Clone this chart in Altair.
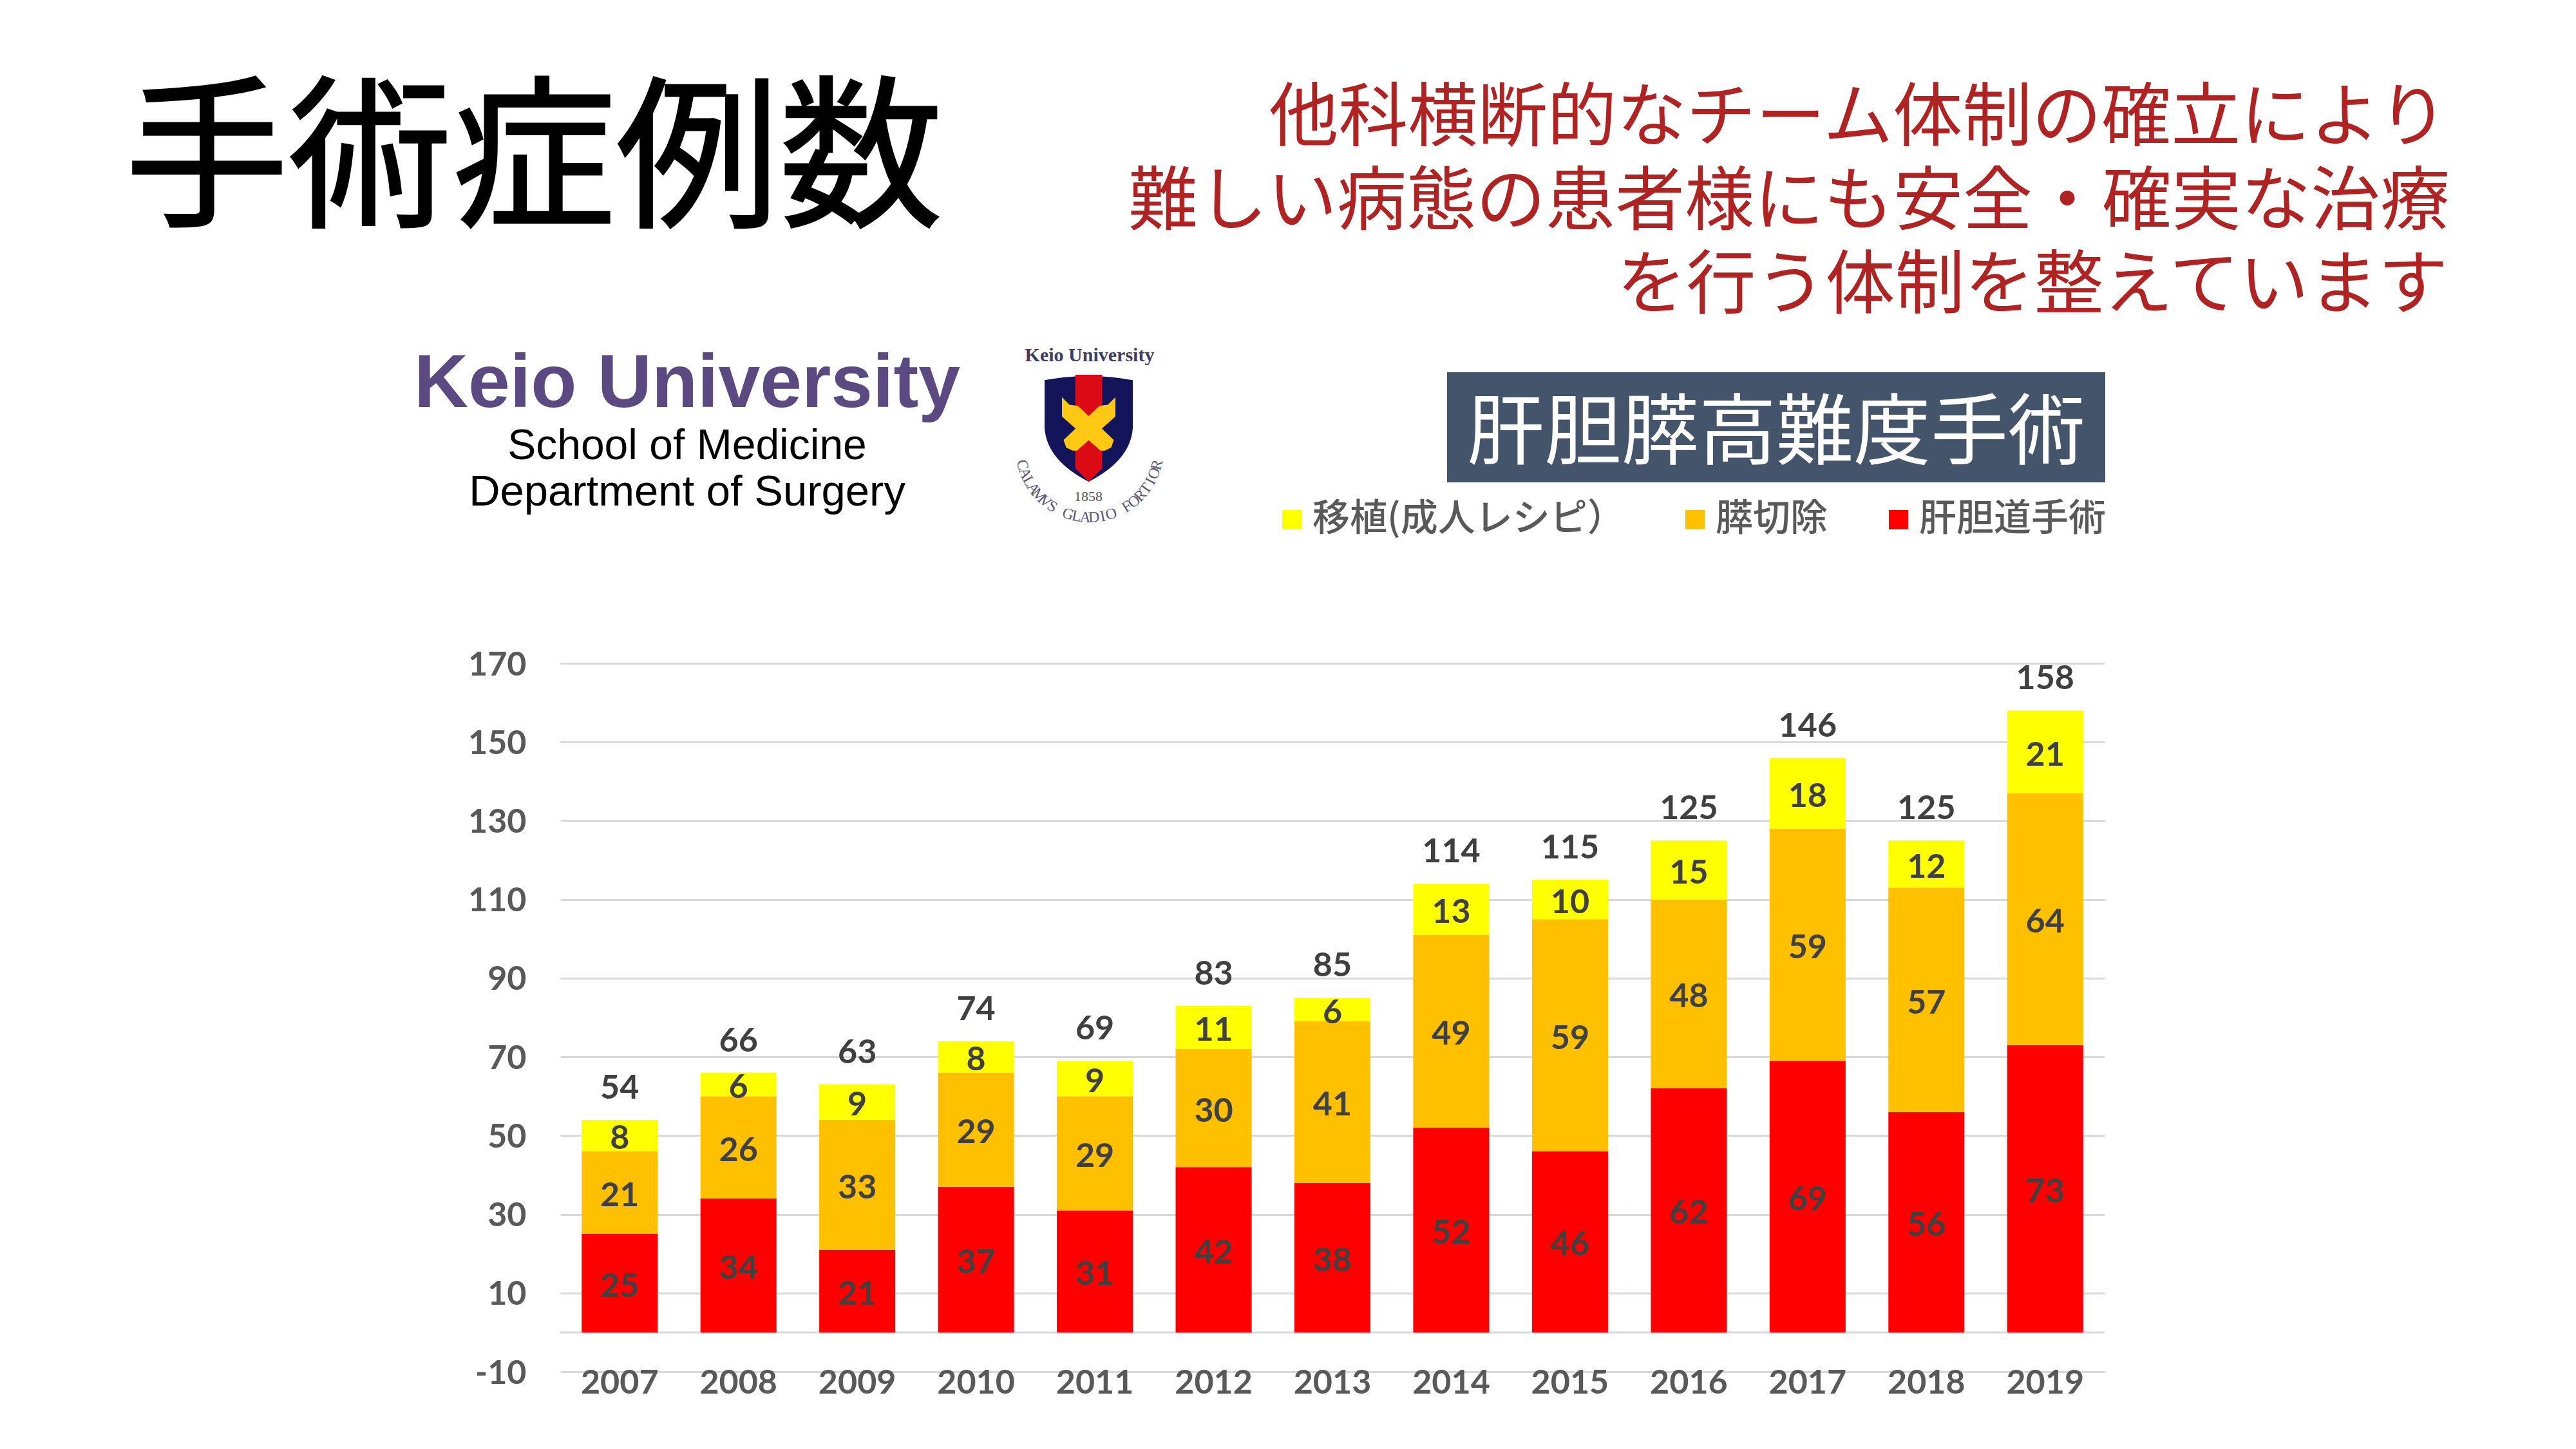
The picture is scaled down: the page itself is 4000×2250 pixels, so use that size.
import math
import altair as alt
import pandas as pd

years = ["2007","2008","2009","2010","2011","2012","2013","2014","2015","2016","2017","2018","2019"]
hbp = [25,34,21,37,31,42,38,52,46,62,69,56,73]
pancreas = [21,26,33,29,29,30,41,49,59,48,59,57,64]
transplant = [8,6,9,8,9,11,6,13,10,15,18,12,21]
series_names = ["移植(成人レシピ）", "膵切除", "肝胆道手術"]
series_colors = ["#FFFF00", "#FFC000", "#FF0000"]
y_ticks = [-10,10,30,50,70,90,110,130,150,170]
title_text = "手術症例数"
subtitle_lines = ["他科横断的なチーム体制の確立により", "難しい病態の患者様にも安全・確実な治療", "を行う体制を整えています"]
box_text = "肝胆膵高難度手術"
crest_motto = "CALAMVS GLADIO FORTIOR"

PX0, PY0, PW, PH = 870, 1030, 2398, 1100
JP = "Noto Sans CJK JP"
NUM = "Lato"

rows = []
for i, yr in enumerate(years):
    lo = 0
    for name, vals in zip(series_names[::-1], [hbp, pancreas, transplant]):
        v = vals[i]
        rows.append(dict(year=yr, series=name, value=v, lo=lo, hi=lo+v, mid=lo+v/2))
        lo += v
df = pd.DataFrame(rows)
totals = pd.DataFrame({"year": years, "total": [a+b+c for a,b,c in zip(hbp,pancreas,transplant)]})

x_enc = alt.X("year:N", sort=years, title=None,
              scale=alt.Scale(paddingInner=0.36, paddingOuter=0.18),
              axis=alt.Axis(domain=False, ticks=False, grid=False, labelAngle=0, labelFont=NUM,
                            labelFontWeight="bold", labelFontSize=52, labelColor="#595959",
                            labelBaseline="middle", labelPadding=17))
y_scale = alt.Scale(domain=[-10,170], nice=False, zero=False)
y_enc = alt.Y("hi:Q", scale=y_scale, title=None,
              axis=alt.Axis(values=y_ticks, domain=False, ticks=False, grid=True, gridColor="#D9D9D9",
                            gridWidth=3, labelFont=NUM, labelFontWeight="bold", labelFontSize=52,
                            labelColor="#595959", labelPadding=53, labelOffset=2,
                            labelExpr="toString(datum.value)"))

bars = alt.Chart(df).mark_bar(strokeWidth=0).encode(
    x=x_enc, y=y_enc, y2="lo:Q",
    color=alt.Color("series:N", sort=series_names,
                    scale=alt.Scale(domain=series_names, range=series_colors),
                    legend=alt.Legend(orient="none", legendX=1107, legendY=-252, direction="horizontal",
                                      columns=3, gridAlign="none", columnPadding=80, title=None,
                                      symbolType="square", symbolSize=900, symbolStrokeWidth=0,
                                      labelFont=JP, labelFontSize=58, labelColor="#595959",
                                      labelFontWeight=500, labelLimit=1000, labelOffset=3)))
zero_line = alt.Chart(pd.DataFrame({"z":[0]})).mark_rule(color="#D9D9D9", strokeWidth=3).encode(
    y=alt.Y("z:Q", scale=y_scale))
seg_labels = alt.Chart(df).mark_text(font=NUM, fontWeight="bold", fontSize=52, color="#404040", dy=5).encode(
    x=alt.X("year:N", sort=years), y=alt.Y("mid:Q", scale=y_scale), text="value:Q")
total_labels = alt.Chart(totals).mark_text(font=NUM, fontWeight="bold", fontSize=52, color="#404040", dy=-49).encode(
    x=alt.X("year:N", sort=years), y=alt.Y("total:Q", scale=y_scale), text="total:Q")

def text(s, px, py, **kw):
    kw.setdefault("baseline", "middle")
    return alt.Chart(alt.Data(values=[{}])).mark_text(text=s, **kw).encode(
        x=alt.value(px-PX0), y=alt.value(py-PY0))
def shape(path, px, py, size, color):
    return alt.Chart(alt.Data(values=[{}])).mark_point(shape=path, filled=True, opacity=1, strokeWidth=0, color=color, size=size).encode(
        x=alt.value(px-PX0), y=alt.value(py-PY0))

deco = [
    text(title_text, 194, 257, font=JP, fontSize=254, color="#000000", stroke="#000000", strokeWidth=3, align="left"),
    text(subtitle_lines[0], 3801, 186, font=JP, fontSize=108, color="#AF2323", align="right"),
    text(subtitle_lines[1], 3804, 316, font=JP, fontSize=108, color="#AF2323", align="right"),
    text(subtitle_lines[2], 3801, 446, font=JP, fontSize=108, color="#AF2323", align="right"),
    alt.Chart(alt.Data(values=[{}])).mark_rect(color="#44546A").encode(
        x=alt.value(2247-PX0), x2=alt.value(3269-PX0), y=alt.value(578-PY0), y2=alt.value(749-PY0)),
    text(box_text, 2758, 676, font=JP, fontSize=120, color="#FFFFFF", align="center"),
    text("Keio University", 1067, 597, font="Liberation Sans", fontWeight="bold", fontSize=116.5, color="#5B4A82", align="center"),
    text("School of Medicine", 1067, 693, font="Liberation Sans", fontSize=66, color="#000000", align="center"),
    text("Department of Surgery", 1067, 765, font="Liberation Sans", fontSize=67, color="#000000", align="center"),
    text("Keio University", 1692, 552, font="Liberation Serif", fontWeight="bold", fontSize=30, color="#3C3C64", align="center"),
    text("1858", 1690, 771, font="Liberation Serif", fontSize=22, color="#555555", align="center"),
    shape("M-.825 -.9 Q0 -1.06 .825 -.9 L.825 .0 Q.78 .6 0 1 Q-.78 .6 -.825 0 Z", 1690.5, 665, 166**2, "#14145A"),
    shape("M-.25 -1 L.25 -1 L.25 .75 L0 1 L-.25 .75 Z", 1690.5, 665, 166**2, "#DC0A14"),
    shape("M-.5 -.58 L-.36 -.44 L-.2 -.42 L.47 .22 L.42 .36 L.3 .42 L.22 .42 L-.5 -.22 Z", 1690.5, 665, 166**2, "#FFC814"),
    shape("M.5 -.58 L.36 -.44 L.2 -.42 L-.47 .22 L-.42 .36 L-.3 .42 L-.22 .42 L.5 -.22 Z", 1690.5, 665, 166**2, "#FFC814"),
]
cx, cy, R = 1692, 696, 108
n = len(crest_motto)
for i, ch in enumerate(crest_motto):
    if ch == " ":
        continue
    phi = -76 + 152 * i / (n-1)
    r = math.radians(phi)
    deco.append(text(ch, cx + R*math.sin(r), cy + R*math.cos(r), font="Liberation Serif", fontSize=24,
                     color="#5A5A78", align="center", angle=(360-phi) % 360))

chart = alt.layer(zero_line, bars, seg_labels, total_labels, *deco).properties(
    width=PW, height=PH, background="#FFFFFF",
    autosize=alt.AutoSizeParams(type="none"),
    padding={"left": PX0-8, "top": PY0-8, "right": 4000-16-(PX0-8)-PW, "bottom": 2250-16-(PY0-8)-PH},
).configure_view(stroke=None)

chart.save("out.html", embed_options={"renderer": "svg", "actions": False})
